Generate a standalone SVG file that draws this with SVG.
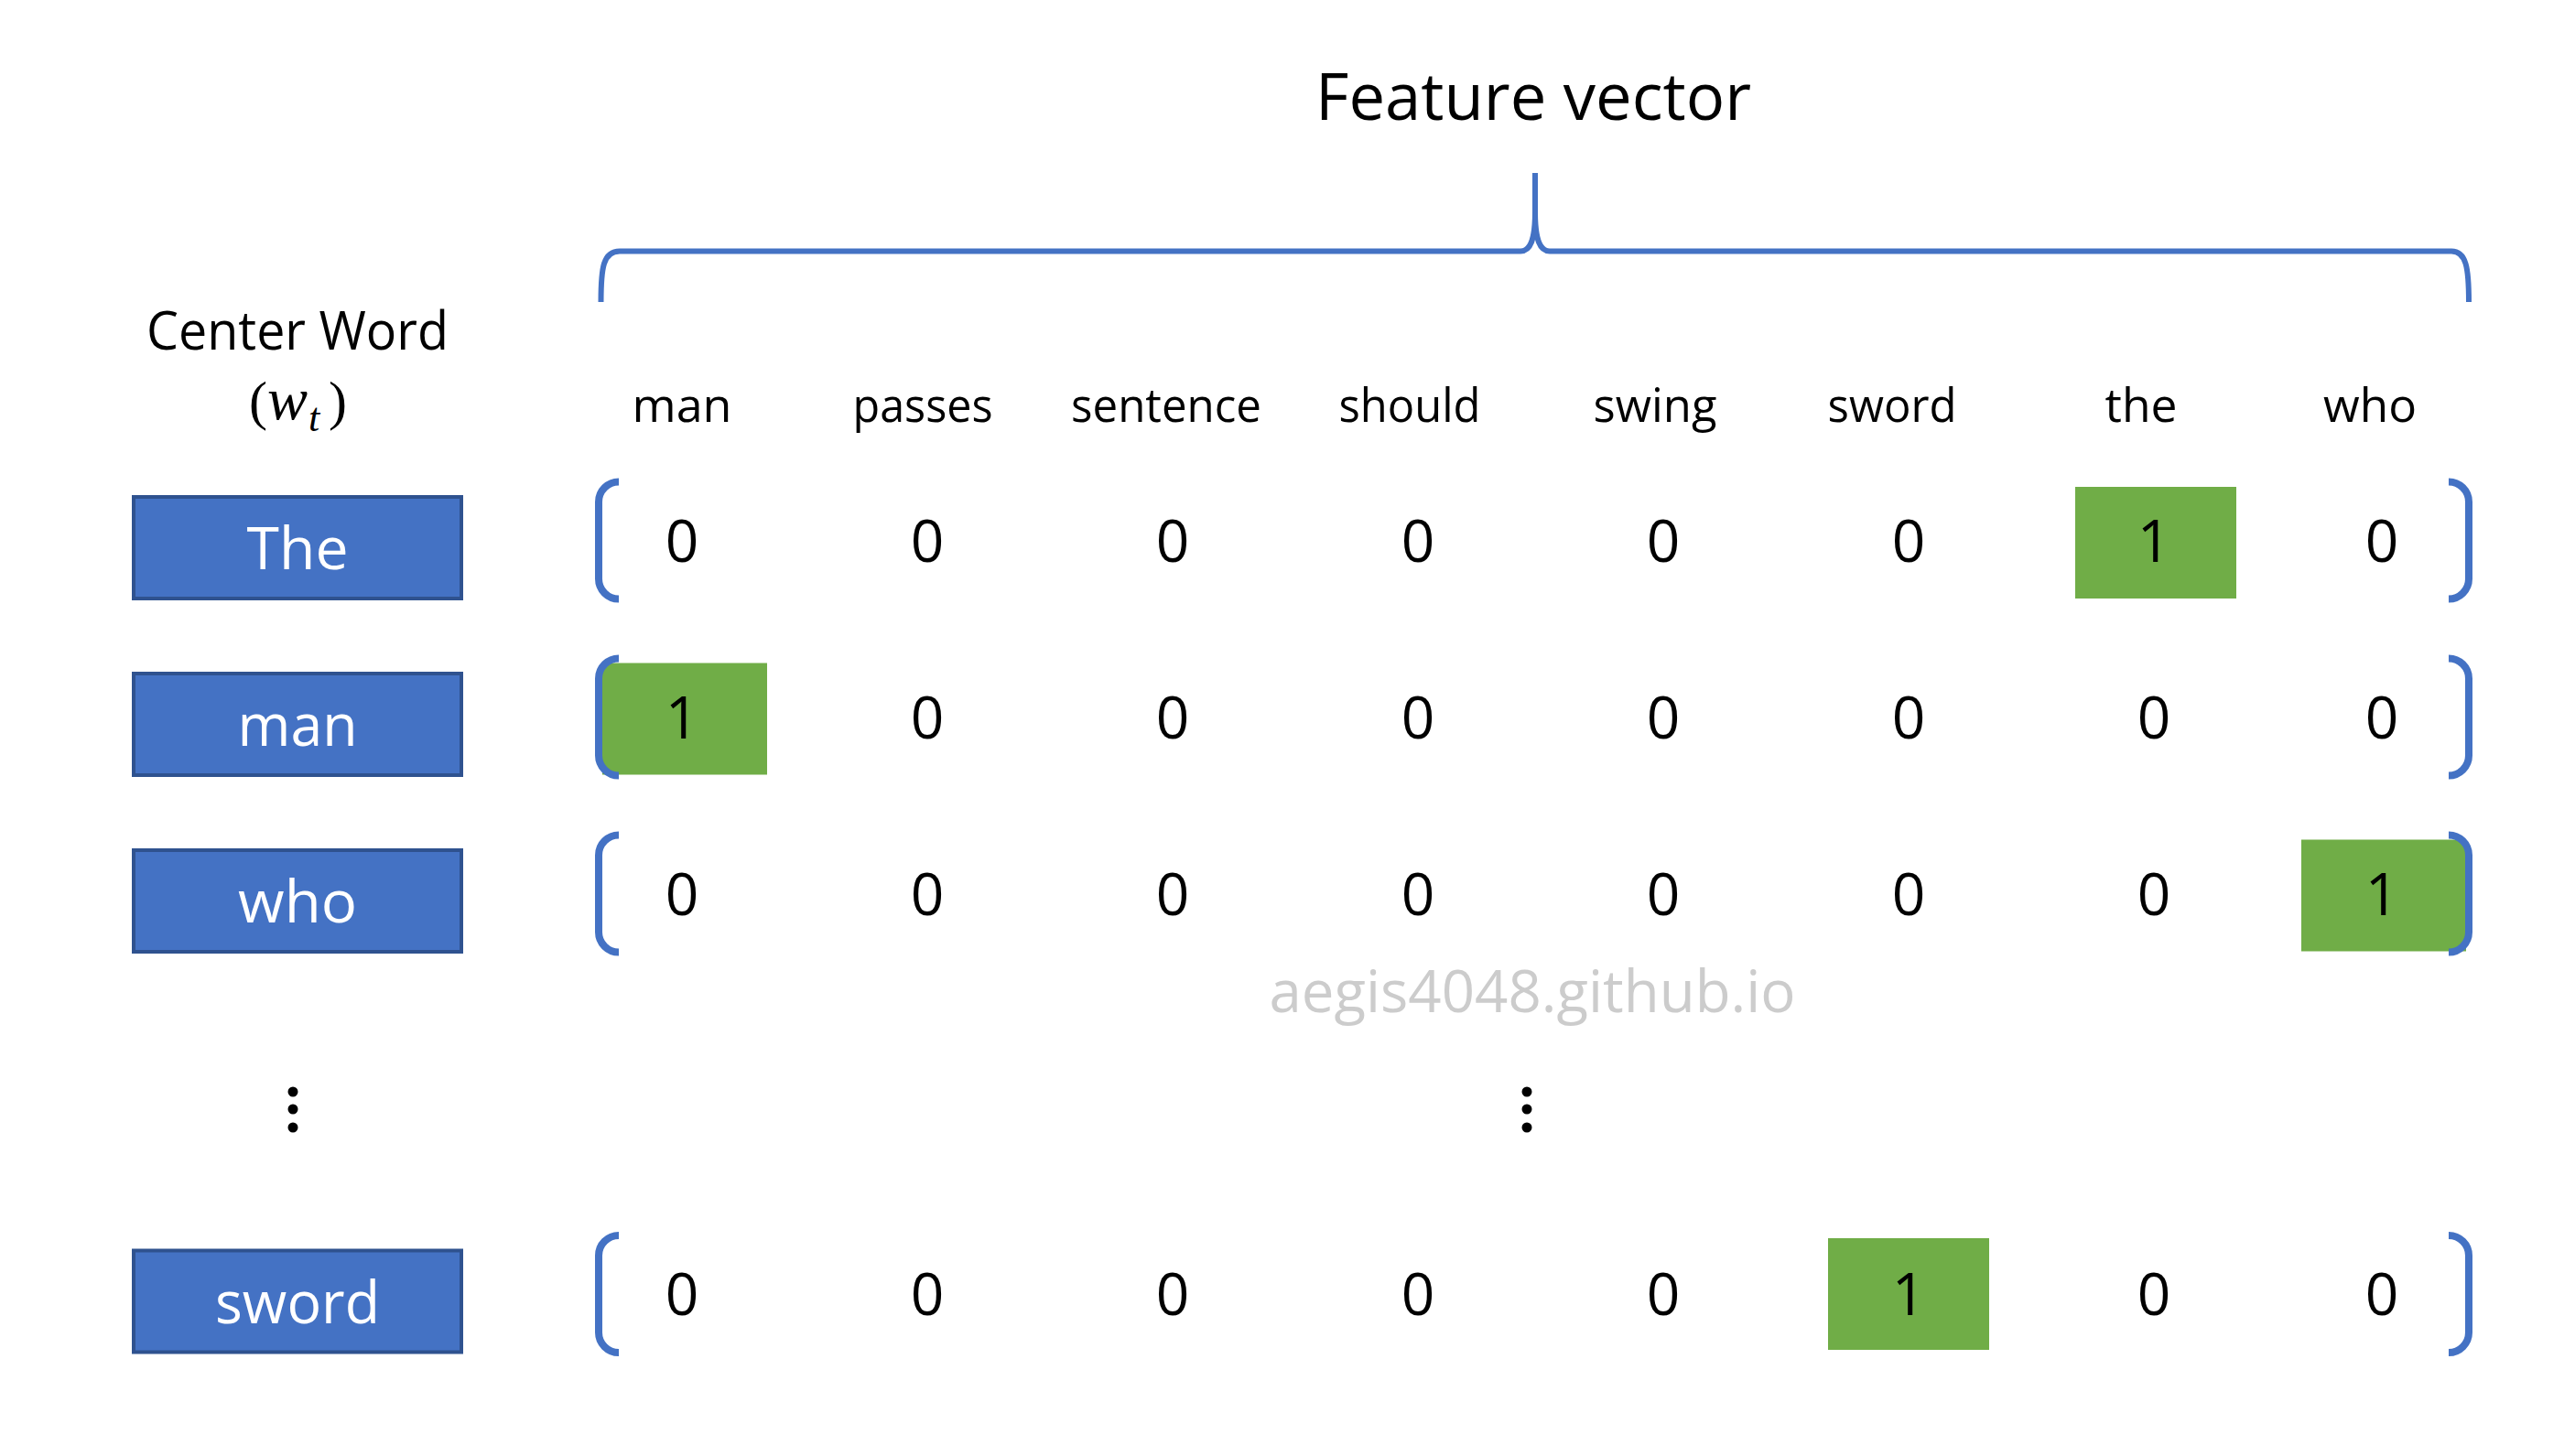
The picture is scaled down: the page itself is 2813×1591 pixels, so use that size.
<svg xmlns="http://www.w3.org/2000/svg" width="2813" height="1591" viewBox="0 0 2813 1591">
<style>
text{font-family:"Open Sans","Liberation Sans",sans-serif;fill:#000}
.title{font-size:72px;text-anchor:middle}
.hdr{font-size:52px;text-anchor:middle}
.num{font-size:64px;text-anchor:middle}
.lbl{font-size:59px;text-anchor:middle}
.word{font-size:64px;text-anchor:middle;fill:#fff}
.math{font-family:"Liberation Serif",serif}
.wm{font-size:64px;text-anchor:middle;fill:#cccccc}
.box{fill:#4472c4;stroke:#2f528f;stroke-width:4}
.hot{fill:#70ad47}
.br{fill:none;stroke:#4472c4;stroke-width:8}
.brace{fill:none;stroke:#4472c4;stroke-width:6}
.dot{fill:#000}
</style>
<rect width="2813" height="1591" fill="#fff"/>

<g id="title">
<text class="title" x="1675" y="131" textLength="476" lengthAdjust="spacingAndGlyphs">Feature vector</text>
</g>

<g id="connectors">
<path class="brace" d="M656.5 330 C656.5 292 659 274.5 677 274.5 L1661 274.5 C1672 274.5 1677 262 1677 232 L1677 189"/>
<path class="brace" d="M1677 232 C1677 262 1682 274.5 1693 274.5 L2678 274.5 C2694 274.5 2697 292 2697 330"/>
</g>

<g id="center-word-label">
<text class="lbl" x="325" y="382" textLength="330" lengthAdjust="spacingAndGlyphs">Center Word</text>
<text class="math" x="272" y="458" font-size="60">(</text>
<text class="math" x="292" y="458" font-size="66" font-style="italic">w</text>
<text class="math" x="337" y="471" font-size="44" font-style="italic">t</text>
<text class="math" x="359" y="458" font-size="60">)</text>
</g>

<g id="headers">
<text class="hdr" x="745" y="461">man</text>
<text class="hdr" x="1008" y="461" textLength="153" lengthAdjust="spacingAndGlyphs">passes</text>
<text class="hdr" x="1274" y="461" textLength="208" lengthAdjust="spacingAndGlyphs">sentence</text>
<text class="hdr" x="1540" y="461" textLength="155" lengthAdjust="spacingAndGlyphs">should</text>
<text class="hdr" x="1808" y="461" textLength="135" lengthAdjust="spacingAndGlyphs">swing</text>
<text class="hdr" x="2067" y="461" textLength="141" lengthAdjust="spacingAndGlyphs">sword</text>
<text class="hdr" x="2339" y="461" textLength="79" lengthAdjust="spacingAndGlyphs">the</text>
<text class="hdr" x="2589" y="461" textLength="102" lengthAdjust="spacingAndGlyphs">who</text>
</g>

<g id="node-the">
<rect class="box" x="146" y="543" width="358" height="111"/>
<text class="word" x="325" y="622" textLength="111" lengthAdjust="spacingAndGlyphs">The</text>
</g>
<g id="row-the">
<rect class="hot" x="2267" y="532" width="176" height="122"/>
<path class="br" d="M676 526.5 A22 22 0 0 0 654 548.5 L654 632.5 A22 22 0 0 0 676 654.5"/>
<path class="br" d="M2675 526.5 A22 22 0 0 1 2697 548.5 L2697 632.5 A22 22 0 0 1 2675 654.5"/>
<text class="num" x="745" y="614">0</text>
<text class="num" x="1013" y="614">0</text>
<text class="num" x="1281" y="614">0</text>
<text class="num" x="1549" y="614">0</text>
<text class="num" x="1817" y="614">0</text>
<text class="num" x="2085" y="614">0</text>
<text class="num" x="2353" y="614">1</text>
<text class="num" x="2602" y="614">0</text>
</g>

<g id="node-man">
<rect class="box" x="146" y="736" width="358" height="111"/>
<text class="word" x="325" y="815" textLength="131" lengthAdjust="spacingAndGlyphs">man</text>
</g>
<g id="row-man">
<rect class="hot" x="658" y="724.5" width="180" height="122"/>
<path class="br" d="M676 719.5 A22 22 0 0 0 654 741.5 L654 825.5 A22 22 0 0 0 676 847.5"/>
<path class="br" d="M2675 719.5 A22 22 0 0 1 2697 741.5 L2697 825.5 A22 22 0 0 1 2675 847.5"/>
<text class="num" x="745" y="807">1</text>
<text class="num" x="1013" y="807">0</text>
<text class="num" x="1281" y="807">0</text>
<text class="num" x="1549" y="807">0</text>
<text class="num" x="1817" y="807">0</text>
<text class="num" x="2085" y="807">0</text>
<text class="num" x="2353" y="807">0</text>
<text class="num" x="2602" y="807">0</text>
</g>

<g id="node-who">
<rect class="box" x="146" y="929" width="358" height="111"/>
<text class="word" x="325" y="1008" textLength="130" lengthAdjust="spacingAndGlyphs">who</text>
</g>
<g id="row-who">
<rect class="hot" x="2514" y="917.5" width="180" height="122"/>
<path class="br" d="M676 912.5 A22 22 0 0 0 654 934.5 L654 1018.5 A22 22 0 0 0 676 1040.5"/>
<path class="br" d="M2675 912.5 A22 22 0 0 1 2697 934.5 L2697 1018.5 A22 22 0 0 1 2675 1040.5"/>
<text class="num" x="745" y="1000">0</text>
<text class="num" x="1013" y="1000">0</text>
<text class="num" x="1281" y="1000">0</text>
<text class="num" x="1549" y="1000">0</text>
<text class="num" x="1817" y="1000">0</text>
<text class="num" x="2085" y="1000">0</text>
<text class="num" x="2353" y="1000">0</text>
<text class="num" x="2602" y="1000">1</text>
</g>

<g id="watermark">
<text class="wm" x="1674" y="1106" textLength="575" lengthAdjust="spacingAndGlyphs">aegis4048.github.io</text>
</g>

<g id="ellipsis-left">
<circle class="dot" cx="320" cy="1193" r="5.5"/>
<circle class="dot" cx="320" cy="1212" r="5.5"/>
<circle class="dot" cx="320" cy="1232" r="5.5"/>
</g>
<g id="ellipsis-center">
<circle class="dot" cx="1668" cy="1193" r="5.5"/>
<circle class="dot" cx="1668" cy="1212" r="5.5"/>
<circle class="dot" cx="1668" cy="1232" r="5.5"/>
</g>

<g id="node-sword">
<rect class="box" x="146" y="1366.5" width="358" height="111"/>
<text class="word" x="325" y="1445.5" textLength="180" lengthAdjust="spacingAndGlyphs">sword</text>
</g>
<g id="row-sword">
<rect class="hot" x="1997" y="1353" width="176" height="122"/>
<path class="br" d="M676 1350 A22 22 0 0 0 654 1372 L654 1456 A22 22 0 0 0 676 1478"/>
<path class="br" d="M2675 1350 A22 22 0 0 1 2697 1372 L2697 1456 A22 22 0 0 1 2675 1478"/>
<text class="num" x="745" y="1437">0</text>
<text class="num" x="1013" y="1437">0</text>
<text class="num" x="1281" y="1437">0</text>
<text class="num" x="1549" y="1437">0</text>
<text class="num" x="1817" y="1437">0</text>
<text class="num" x="2085" y="1437">1</text>
<text class="num" x="2353" y="1437">0</text>
<text class="num" x="2602" y="1437">0</text>
</g>
</svg>
